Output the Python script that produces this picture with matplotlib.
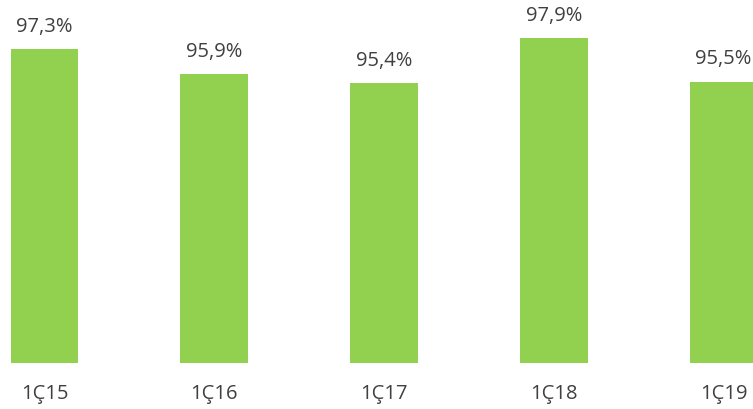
import matplotlib
matplotlib.use("Agg")
import matplotlib.pyplot as plt

categories = ["1Ç15", "1Ç16", "1Ç17", "1Ç18", "1Ç19"]
values = [97.3, 95.9, 95.4, 97.9, 95.5]
labels = ["97,3%", "95,9%", "95,4%", "97,9%", "95,5%"]

W, H = 753, 409
fig = plt.figure(figsize=(W / 100, H / 100), dpi=100)
ax = fig.add_axes([0, (H - 363) / H, 1, 363 / H])
x = list(range(len(categories)))
ax.bar(x, values, width=0.4, color="#92D050", bottom=0)
ax.set_ylim(80, 80 + 363 / 18.16)
ax.set_xlim(-44.5 / 169.75, (753 - 44.5) / 169.75)
for xi, v, lab in zip(x, values, labels):
    ax.annotate(lab, (xi, v), xytext=(0, 16), textcoords="offset points",
                ha="center", va="center", fontsize=14.5, color="#404040",
                family=["Open Sans", "DejaVu Sans"])
    ax.annotate(categories[xi], (xi, 80), xytext=(0, -22), textcoords="offset points",
                ha="center", va="center", fontsize=14.5, color="#404040",
                family=["Open Sans", "DejaVu Sans"], annotation_clip=False)
ax.axis("off")
fig.savefig("out.png", dpi=100)
